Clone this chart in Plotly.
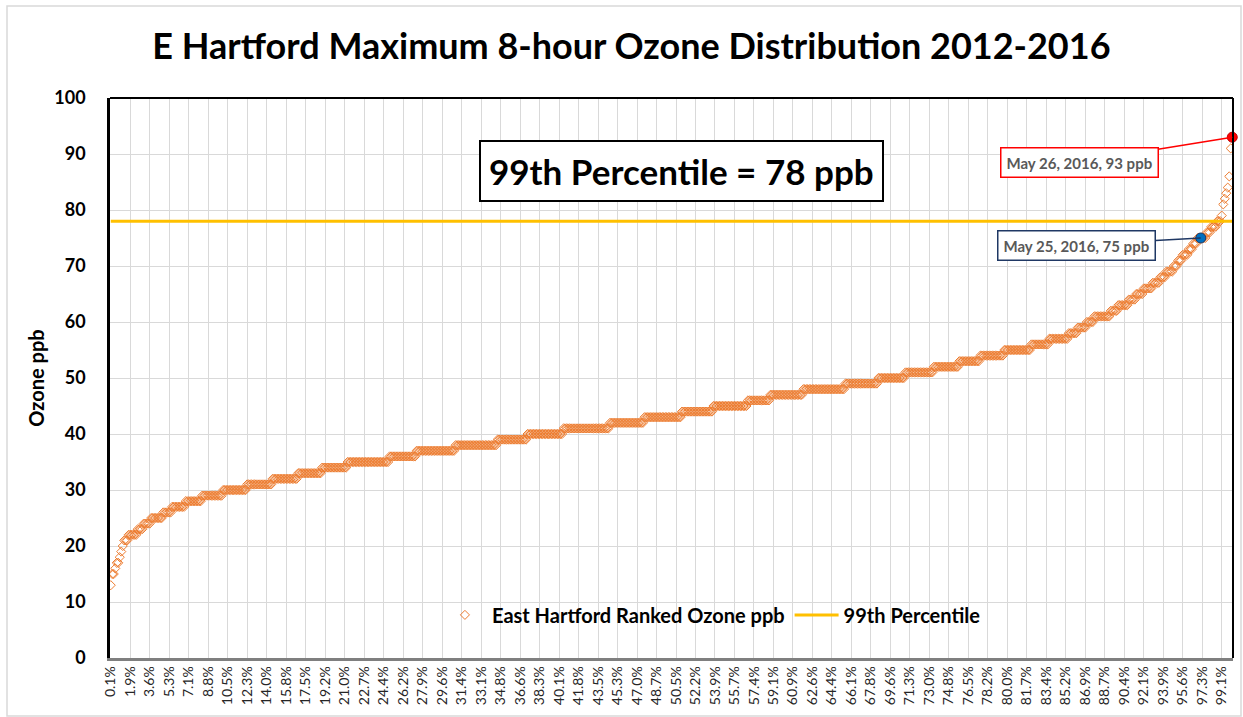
import plotly.graph_objects as go

# ---- data ----
ozone_levels = [13, 15, 16, 17, 18, 19, 20, 21, 22, 23, 24, 25, 26, 27, 28, 29, 30,
                31, 32, 33, 34, 35, 36, 37, 38, 39, 40, 41, 42, 43, 44, 45, 46, 47,
                48, 49, 50, 51, 52, 53, 54, 55, 56, 57, 58, 59, 60, 61, 62, 63, 64,
                65, 66, 67, 68, 69, 70, 71, 72, 73, 74, 75, 76, 77, 78, 79, 81, 82,
                83, 84, 86, 91, 93]
day_counts = [1, 2, 1, 2, 1, 1, 1, 3, 6, 4, 5, 8, 6, 9, 11, 14, 16,
              17, 17, 16, 17, 28, 18, 26, 28, 20, 24, 31, 23, 25, 21, 23, 15, 22,
              28, 22, 18, 19, 17, 14, 16, 18, 12, 13, 6, 6, 5, 11, 5, 7, 5,
              5, 6, 5, 4, 5, 3, 3, 4, 3, 3, 6, 3, 4, 3, 1, 1, 1,
              1, 1, 1, 1, 1]
percentile_99_value = 78
highlight_ranks = [728, 749]
highlight_labels = ["May 25, 2016, 75 ppb", "May 26, 2016, 93 ppb"]
highlight_colors = ["#0070C0", "#FF0000"]
highlight_edge = ["#1F3864", "#C00000"]
label_border = ["#1F3864", "#FF0000"]
tick_step = 13

# ---- build ranked series ----
ranked = []
for v, c in zip(ozone_levels, day_counts):
    ranked += [v] * c
n = len(ranked)
ranks = list(range(1, n + 1))
tickvals = list(range(1, n + 1, tick_step))
ticktext = [f"{r / n * 100:.1f}%" for r in tickvals]

FONT = "Lato"
fig = go.Figure()
fig.add_trace(go.Scatter(
    x=ranks, y=ranked, mode="markers", name="<b>East Hartford Ranked Ozone ppb</b>",
    marker=dict(symbol="diamond-open", size=7, color="#ED7D31", line=dict(width=1)),
))
fig.add_trace(go.Scatter(
    x=ranks, y=[percentile_99_value] * n, mode="lines", name="<b>99th Percentile</b>",
    line=dict(color="#FFC000", width=3),
))
for r, col, edge in zip(highlight_ranks, highlight_colors, highlight_edge):
    fig.add_trace(go.Scatter(
        x=[r], y=[ranked[r - 1]], mode="markers", showlegend=False, cliponaxis=False,
        marker=dict(symbol="circle", size=10, color=col, line=dict(color=edge, width=1)),
    ))

offsets = [(-124, 7), (-153, 25)]
for r, lab, bc, (ax, ay) in zip(highlight_ranks, highlight_labels, label_border, offsets):
    fig.add_annotation(
        x=r, y=ranked[r - 1], xref="x", yref="y", text=f"<b>{lab}</b>",
        showarrow=True, arrowhead=0, arrowwidth=1.5, arrowcolor=bc, ax=ax, ay=ay,
        bordercolor=bc, borderwidth=1.5, borderpad=5, bgcolor="white",
        font=dict(family=FONT, size=15, color="#595959"),
    )

fig.add_annotation(
    xref="paper", yref="paper", x=0.509, y=0.87, xanchor="center", yanchor="middle",
    showarrow=False,
    text=f"<b>99th Percentile = {percentile_99_value} ppb</b>",
    font=dict(family=FONT, size=35, color="black"),
    bordercolor="black", borderwidth=2, borderpad=8, bgcolor="white",
)

# plot border top/right and outer chart border
fig.add_shape(type="line", xref="paper", yref="paper", x0=0, x1=1, y0=1, y1=1,
              line=dict(color="black", width=2))
fig.add_shape(type="line", xref="paper", yref="paper", x0=1, x1=1, y0=0, y1=1,
              line=dict(color="black", width=2))
fig.add_shape(type="rect", xref="paper", yref="paper",
              x0=(7 - 110) / 1123, x1=(1241 - 110) / 1123,
              y0=(658 - 716) / 560, y1=(658 - 6) / 560,
              line=dict(color="#D9D9D9", width=1.5), layer="below")

fig.update_layout(
    width=1243, height=717,
    margin=dict(l=110, r=10, t=98, b=59),
    paper_bgcolor="white", plot_bgcolor="white",
    title=dict(text="<b>E Hartford Maximum 8-hour Ozone Distribution 2012-2016</b>",
               x=0.508, xanchor="center", y=0.935, yanchor="middle",
               font=dict(family=FONT, size=36, color="black")),
    legend=dict(orientation="h", x=0.536, y=0.077, xanchor="center", yanchor="middle",
                font=dict(family=FONT, size=20, color="black"), bgcolor="rgba(0,0,0,0)",
                itemwidth=44),
    showlegend=True,
)
fig.update_xaxes(
    range=[0.5, n + 0.5], tickmode="array", tickvals=tickvals, ticktext=ticktext,
    tickangle=-90, tickfont=dict(family=FONT, size=14, color="#262626"),
    showgrid=True, gridcolor="#D9D9D9", gridwidth=1, zeroline=False,
    showline=True, linecolor="#7F7F7F", linewidth=2.5, ticks="",
)
fig.update_yaxes(
    range=[0, 100], tickmode="array", tickvals=list(range(0, 101, 10)),
    ticktext=[f"<b>{v}</b>" for v in range(0, 101, 10)],
    tickfont=dict(family=FONT, size=18, color="black"), ticklabelstandoff=18,
    showgrid=True, gridcolor="#D9D9D9", gridwidth=1, zeroline=False,
    showline=True, linecolor="black", linewidth=2.5, ticks="",
    title=dict(text="<b>Ozone ppb</b>", font=dict(family=FONT, size=20, color="black"),
               standoff=5),
)

fig.write_html("out.html", config={"displayModeBar": False},
               post_script="document.body.style.margin='0';")
